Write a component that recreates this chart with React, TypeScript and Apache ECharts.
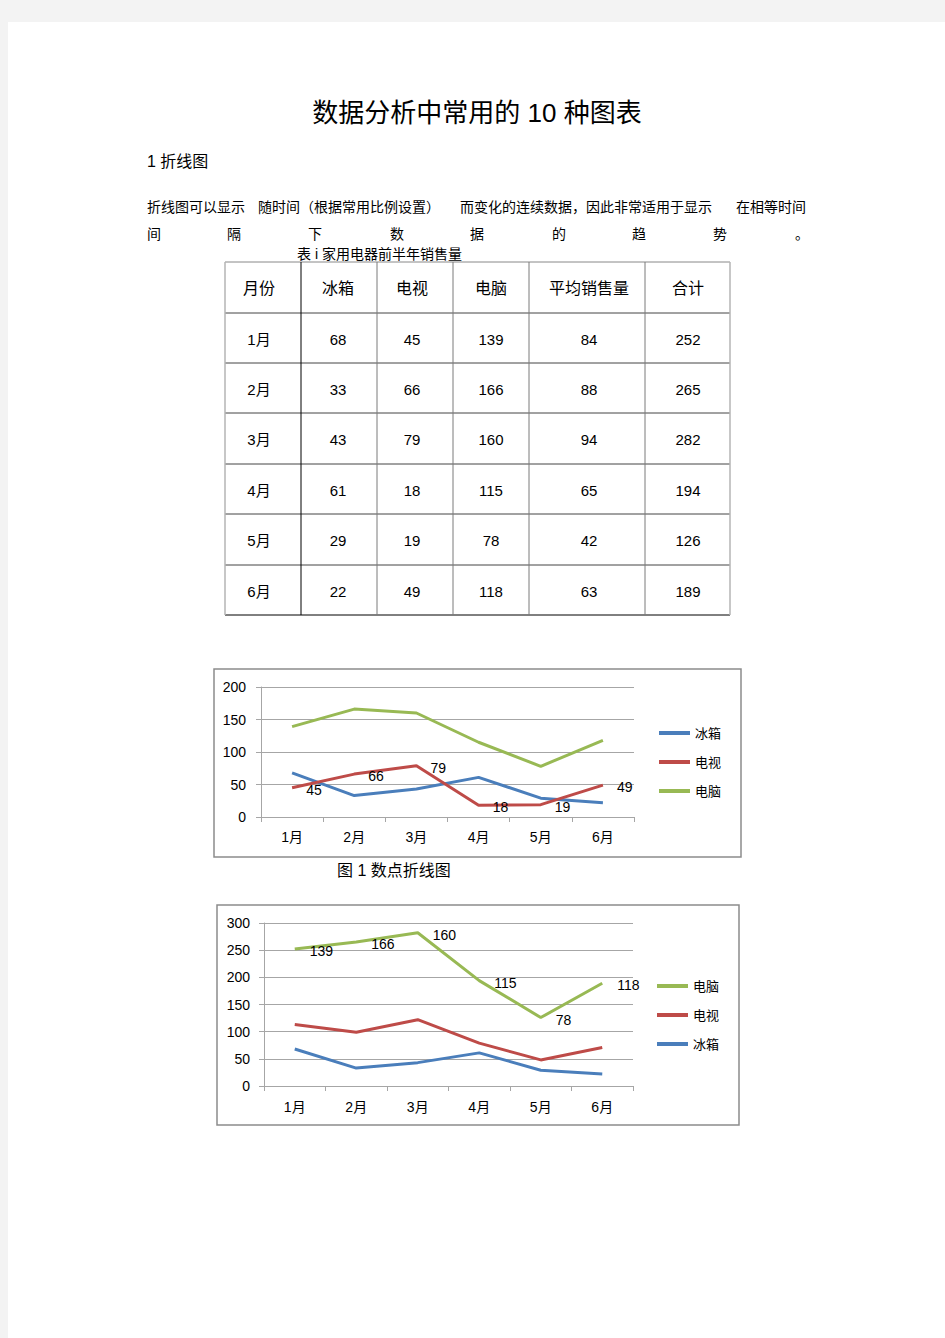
import { useEffect, useRef } from "react";
import * as echarts from "echarts";

// ---- data ----
const months = ["1月", "2月", "3月", "4月", "5月", "6月"];
const fridge = [68, 33, 43, 61, 29, 22];
const tv = [45, 66, 79, 18, 19, 49];
const pc = [139, 166, 160, 115, 78, 118];
const avgSales = [84, 88, 94, 65, 42, 63];
const totals = [252, 265, 282, 194, 126, 189];
const tableHeaders = ["月份", "冰箱", "电视", "电脑", "平均销售量", "合计"];
const seriesNames = ["冰箱", "电视", "电脑"];
const chart1Axis = { min: 0, max: 200, interval: 50 };
const chart2Axis = { min: 0, max: 300, interval: 50 };

const title = "数据分析中常用的 10 种图表";
const heading = "1 折线图";
const para1 = ["折线图可以显示", "随时间（根据常用比例设置）", "而变化的连续数据，因此非常适用于显示", "在相等时间"];
const para2 = ["间", "隔", "下", "数", "据", "的", "趋", "势", "。"];
const tableCaption = "表 i 家用电器前半年销售量";
const figCaption = "图 1 数点折线图";

// ---- styles / layout ----
const FONT = "'Liberation Sans', Arial, 'Noto Sans CJK SC', sans-serif";
const BLUE = "#4a7ebb";
const RED = "#be4b48";
const GREEN = "#98b954";
const GRID = "#a6a6a6";

const colLines = [225, 301, 377, 453, 529, 645, 730];
const rowLines = [262, 313, 363, 413, 464, 514, 565, 615];
const colCenters = [259, 338, 412, 491, 589, 688];
const para1X = [147, 258, 460, 736];
const para2X = [147, 227, 308, 390, 470, 552, 632, 713, 795];

function txt(text: string, x: number, y: number, size: number, align = "left") {
  return {
    type: "text",
    x,
    y,
    style: {
      text,
      fill: "#000",
      font: `${size}px ${FONT}`,
      textAlign: align,
      textVerticalAlign: "middle",
    },
  };
}

function buildGraphics() {
  const els: any[] = [];
  // page background strips
  els.push({ type: "rect", shape: { x: 0, y: 0, width: 945, height: 22 }, style: { fill: "#f3f3f3" } });
  els.push({ type: "rect", shape: { x: 0, y: 0, width: 8, height: 1338 }, style: { fill: "#f3f3f3" } });

  els.push(txt(title, 477, 113, 26, "center"));
  els.push(txt(heading, 147, 161, 16));
  para1.forEach((s, i) => els.push(txt(s, para1X[i], 207, 14)));
  para2.forEach((s, i) => els.push(txt(s, para2X[i], 234, 14)));
  els.push(txt(tableCaption, 297, 254, 14));

  // table lines
  rowLines.forEach((y, i) => {
    const last = i === rowLines.length - 1;
    els.push({
      type: "line",
      shape: { x1: colLines[0], y1: y, x2: colLines[colLines.length - 1], y2: y },
      style: { stroke: last ? "#000" : i === 0 ? "#888" : "#444", lineWidth: 1 },
    });
  });
  colLines.forEach((x, i) => {
    const outer = i === 0 || i === colLines.length - 1;
    els.push({
      type: "line",
      shape: { x1: x, y1: rowLines[0], x2: x, y2: rowLines[rowLines.length - 1] },
      style: { stroke: outer ? "#b5b5b5" : i === 1 ? "#000" : "#7a7a7a", lineWidth: outer ? 1.5 : 1 },
    });
  });
  // table text
  const rowCenter = (r: number) => (rowLines[r] + rowLines[r + 1]) / 2 + 1;
  tableHeaders.forEach((h, c) => els.push(txt(h, colCenters[c], rowCenter(0), 16, "center")));
  months.forEach((m, r) => {
    const vals = [m, fridge[r], tv[r], pc[r], avgSales[r], totals[r]];
    vals.forEach((v, c) => els.push(txt(String(v), colCenters[c], rowCenter(r + 1), 15, "center")));
  });

  // chart frames
  els.push({ type: "rect", shape: { x: 214, y: 669, width: 527, height: 188 }, style: { fill: "none", stroke: "#8c8c8c", lineWidth: 1.5 } });
  els.push({ type: "rect", shape: { x: 217, y: 905, width: 522, height: 220 }, style: { fill: "none", stroke: "#8c8c8c", lineWidth: 1.5 } });
  els.push(txt(figCaption, 337, 870, 16));
  return els;
}

function yAxis(gridIndex: number, cfg: { min: number; max: number; interval: number }, margin: number) {
  return {
    type: "value",
    gridIndex,
    min: cfg.min,
    max: cfg.max,
    interval: cfg.interval,
    axisLine: { show: true, lineStyle: { color: GRID, width: 1 } },
    axisTick: { show: true, length: 5, lineStyle: { color: GRID } },
    axisLabel: { color: "#000", fontSize: 14, fontFamily: FONT, margin },
    splitLine: { show: true, lineStyle: { color: GRID, width: 1 } },
  };
}

function xAxis(gridIndex: number, margin: number) {
  return {
    type: "category",
    gridIndex,
    data: months,
    boundaryGap: true,
    axisLine: { show: true, lineStyle: { color: GRID, width: 1 } },
    axisTick: { show: true, length: 5, lineStyle: { color: GRID } },
    axisLabel: { color: "#000", fontSize: 14, fontFamily: FONT, margin },
    splitLine: { show: false },
  };
}

const labelStyle = (distance: number) => ({
  show: true,
  position: "right",
  distance,
  offset: [0, 2],
  color: "#000",
  fontSize: 14,
  fontFamily: FONT,
});

export default function App() {
  const ref = useRef<HTMLDivElement>(null);
  useEffect(() => {
    if (!ref.current) return;
    const chart = echarts.init(ref.current, undefined, { renderer: "svg" });
    const legendBase = {
      orient: "vertical",
      icon: "rect",
      itemWidth: 31,
      itemHeight: 4,
      itemGap: 13,
      padding: 0,
      textStyle: { color: "#000", fontSize: 13, fontFamily: FONT, lineHeight: 16 },
    };
    chart.setOption({
      animation: false,
      backgroundColor: "#fff",
      color: [BLUE, RED, GREEN],
      graphic: { elements: buildGraphics() },
      grid: [
        { left: 261, top: 687, width: 373, height: 130 },
        { left: 264, top: 923, width: 369, height: 163 },
      ],
      xAxis: [xAxis(0, 13), xAxis(1, 14)],
      yAxis: [yAxis(0, chart1Axis, 15), yAxis(1, chart2Axis, 14)],
      legend: [
        { ...legendBase, data: seriesNames, left: 659, top: 725 },
        { ...legendBase, data: [...seriesNames].reverse(), left: 657, top: 978 },
      ],
      series: [
        { name: "冰箱", type: "line", xAxisIndex: 0, yAxisIndex: 0, data: fridge, symbol: "none", lineStyle: { width: 3, color: BLUE }, itemStyle: { color: BLUE } },
        { name: "电视", type: "line", xAxisIndex: 0, yAxisIndex: 0, data: tv, symbol: "circle", symbolSize: 0.1, lineStyle: { width: 3, color: RED }, itemStyle: { color: RED }, label: labelStyle(14) },
        { name: "电脑", type: "line", xAxisIndex: 0, yAxisIndex: 0, data: pc, symbol: "none", lineStyle: { width: 3, color: GREEN }, itemStyle: { color: GREEN } },
        { name: "冰箱", type: "line", xAxisIndex: 1, yAxisIndex: 1, stack: "total", data: fridge, symbol: "none", lineStyle: { width: 3, color: BLUE }, itemStyle: { color: BLUE } },
        { name: "电视", type: "line", xAxisIndex: 1, yAxisIndex: 1, stack: "total", data: tv, symbol: "none", lineStyle: { width: 3, color: RED }, itemStyle: { color: RED } },
        { name: "电脑", type: "line", xAxisIndex: 1, yAxisIndex: 1, stack: "total", data: pc, symbol: "circle", symbolSize: 0.1, lineStyle: { width: 3, color: GREEN }, itemStyle: { color: GREEN }, label: labelStyle(15) },
      ],
    });
    return () => chart.dispose();
  }, []);
  return <div ref={ref} style={{ position: "absolute", left: 0, top: 0, width: 945, height: 1338 }} />;
}
